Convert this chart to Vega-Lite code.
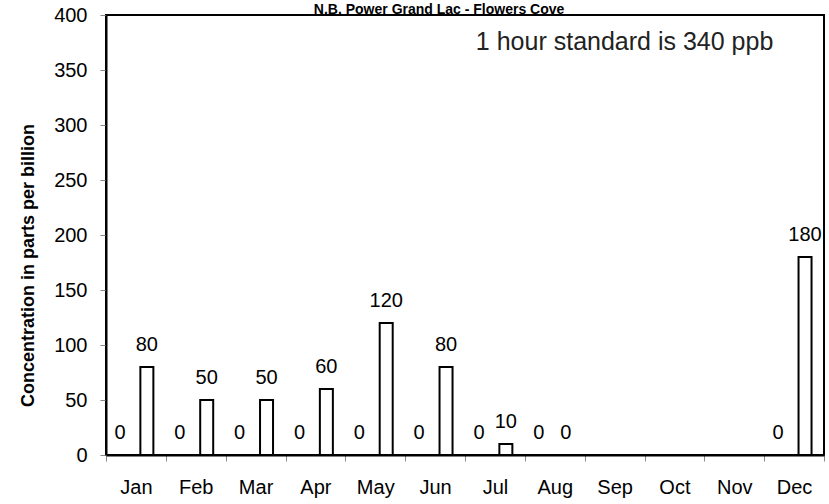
{
  "$schema": "https://vega.github.io/schema/vega-lite/v6.json",
  "autosize": "none",
  "width": 718,
  "height": 440,
  "padding": {"left": 106, "top": 15, "right": 5, "bottom": 49},
  "background": "white",
  "config": {
    "view": {"stroke": "black", "strokeWidth": 2},
    "axis": {
      "labelFont": "Liberation Sans",
      "titleFont": "Liberation Sans",
      "labelColor": "black",
      "titleColor": "black",
      "domainColor": "black",
      "domainWidth": 2,
      "tickColor": "#888",
      "tickSize": 6,
      "grid": false
    }
  },
  "datasets": {
    "bars": [
      {"month": "Jan", "series": "a", "ppb": 0},
      {"month": "Jan", "series": "b", "ppb": 80},
      {"month": "Feb", "series": "a", "ppb": 0},
      {"month": "Feb", "series": "b", "ppb": 50},
      {"month": "Mar", "series": "a", "ppb": 0},
      {"month": "Mar", "series": "b", "ppb": 50},
      {"month": "Apr", "series": "a", "ppb": 0},
      {"month": "Apr", "series": "b", "ppb": 60},
      {"month": "May", "series": "a", "ppb": 0},
      {"month": "May", "series": "b", "ppb": 120},
      {"month": "Jun", "series": "a", "ppb": 0},
      {"month": "Jun", "series": "b", "ppb": 80},
      {"month": "Jul", "series": "a", "ppb": 0},
      {"month": "Jul", "series": "b", "ppb": 10},
      {"month": "Aug", "series": "a", "ppb": 0},
      {"month": "Aug", "series": "b", "ppb": 0},
      {"month": "Dec", "series": "a", "ppb": 0},
      {"month": "Dec", "series": "b", "ppb": 180}
    ],
    "note": [{"month": "Sep", "ppb": 368, "label": "1 hour standard is 340 ppb"}],
    "heading": [{"month": "Jun", "ppb": 401.3, "label": "N.B. Power Grand Lac - Flowers Cove"}]
  },
  "layer": [
    {
      "data": {"name": "bars"},
      "mark": {"type": "bar", "fill": "white", "stroke": "black", "strokeWidth": 2, "width": 13},
      "encoding": {
        "x": {
          "field": "month", "type": "nominal",
          "scale": {"domain": ["Jan","Feb","Mar","Apr","May","Jun","Jul","Aug","Sep","Oct","Nov","Dec"], "paddingInner": 0, "paddingOuter": 0},
          "axis": {"title": null, "labelAngle": 0, "labelFontSize": 20, "labelPadding": 16, "tickBand": "extent", "domain": true}
        },
        "xOffset": {"field": "series", "type": "nominal", "scale": {"domain": ["a", "b"], "paddingInner": 0, "paddingOuter": 0.111, "align": 0.08}},
        "y": {
          "field": "ppb", "type": "quantitative",
          "scale": {"domain": [0, 400], "nice": false},
          "axis": {"values": [0,50,100,150,200,250,300,350,400], "title": "Concentration in parts per billion", "titleFontSize": 18, "titleFontWeight": "bold", "labelFontSize": 20, "labelPadding": 13, "titleX": -78, "titleY": 250, "titleBaseline": "middle"}
        }
      }
    },
    {
      "data": {"name": "bars"},
      "mark": {"type": "text", "font": "Liberation Sans", "fontSize": 20, "color": "black", "baseline": "alphabetic", "dy": -16},
      "encoding": {
        "x": {"field": "month", "type": "nominal"},
        "xOffset": {"field": "series", "type": "nominal"},
        "y": {"field": "ppb", "type": "quantitative"},
        "text": {"field": "ppb", "type": "quantitative"}
      }
    },
    {
      "data": {"name": "note"},
      "mark": {"type": "text", "font": "Liberation Sans", "fontSize": 25, "color": "#222", "baseline": "alphabetic", "align": "center", "dx": 10},
      "encoding": {
        "x": {"field": "month", "type": "nominal"},
        "y": {"field": "ppb", "type": "quantitative"},
        "text": {"field": "label"}
      }
    },
    {
      "data": {"name": "heading"},
      "mark": {"type": "text", "font": "Liberation Sans", "fontSize": 14, "fontWeight": "bold", "color": "black", "baseline": "alphabetic", "align": "center", "dx": 4},
      "encoding": {
        "x": {"field": "month", "type": "nominal"},
        "y": {"field": "ppb", "type": "quantitative"},
        "text": {"field": "label"}
      }
    }
  ]
}
